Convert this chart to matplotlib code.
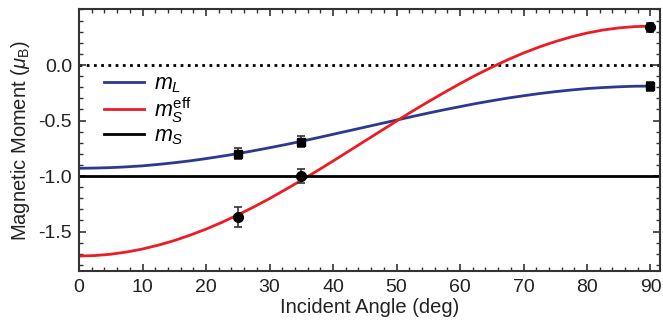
import matplotlib
matplotlib.use("Agg")
import matplotlib.pyplot as plt
from matplotlib.ticker import MultipleLocator

plt.rcParams['font.family'] = ['Liberation Sans', 'DejaVu Sans']
plt.rcParams['mathtext.fontset'] = 'custom'
plt.rcParams['mathtext.rm'] = 'Liberation Sans'
plt.rcParams['mathtext.it'] = 'Liberation Sans:italic'

# Curve samples
angles = [0, 2.5, 5, 7.5, 10, 12.5, 15, 17.5, 20, 22.5, 25, 27.5, 30, 32.5, 35, 37.5,
          40, 42.5, 45, 47.5, 50, 52.5, 55, 57.5, 60, 62.5, 65, 67.5, 70, 72.5, 75,
          77.5, 80, 82.5, 85, 87.5, 90]
mL_curve = [-0.930, -0.928, -0.924, -0.917, -0.908, -0.895, -0.880, -0.863, -0.843,
            -0.821, -0.798, -0.772, -0.745, -0.717, -0.687, -0.656, -0.624, -0.592,
            -0.560, -0.528, -0.496, -0.464, -0.433, -0.403, -0.375, -0.347, -0.322,
            -0.298, -0.277, -0.257, -0.240, -0.225, -0.212, -0.203, -0.196, -0.191,
            -0.190]
mSeff_curve = [-1.720, -1.716, -1.704, -1.684, -1.657, -1.622, -1.581, -1.532, -1.478,
               -1.417, -1.350, -1.279, -1.203, -1.122, -1.039, -0.953, -0.865, -0.775,
               -0.685, -0.595, -0.505, -0.416, -0.331, -0.248, -0.168, -0.091, -0.020,
               0.047, 0.108, 0.163, 0.211, 0.253, 0.288, 0.315, 0.334, 0.346, 0.350]
mS_value = -1.0

# Measured points
pt_angles = [25, 35, 90]
mL_pts = [-0.80, -0.69, -0.19]
mL_err = [0.05, 0.05, 0.04]
mSeff_pts = [-1.37, -1.00, 0.34]
mSeff_err = [0.09, 0.06, 0.04]

blue = '#2b3990'
red = '#ed1c24'

fig = plt.figure(figsize=(6.63, 3.23), dpi=100)
ax = fig.add_axes([0.1192, 0.161, 0.9955 - 0.1192, 0.9706 - 0.161])

ax.axhline(0.0, color='black', linestyle=(0, (1, 1.6)), linewidth=2.0, zorder=1)
ax.plot(angles, mL_curve, color=blue, linewidth=2.0, label=r'$m_L$', zorder=2)
ax.plot(angles, mSeff_curve, color=red, linewidth=2.0, label=r'$m_S^{\mathrm{eff}}$', zorder=2)
ax.axhline(mS_value, color='black', linewidth=2.0, label=r'$m_S$', zorder=2)

ax.errorbar(pt_angles, mL_pts, yerr=mL_err, fmt='s', color='black', ecolor='#333333',
            markersize=6, capsize=3, elinewidth=1.2, capthick=1.2, zorder=3)
ax.errorbar(pt_angles, mSeff_pts, yerr=mSeff_err, fmt='o', color='black', ecolor='#333333',
            markersize=7, capsize=3, elinewidth=1.2, capthick=1.2, zorder=3)

ax.set_xlim(0, 91.5)
ax.set_ylim(-1.855, 0.5)
ax.xaxis.set_major_locator(MultipleLocator(10))
ax.xaxis.set_minor_locator(MultipleLocator(2))
ax.yaxis.set_major_locator(MultipleLocator(0.5))
ax.yaxis.set_minor_locator(MultipleLocator(0.1))
ax.set_yticks([0.0, -0.5, -1.0, -1.5])
ax.set_yticklabels(['0.0', '-0.5', '-1.0', '-1.5'])
ax.tick_params(which='both', direction='in', top=True, right=True, labelsize=14,
               color='#333333', labelcolor='#222222')
ax.tick_params(axis='x', which='major', pad=6)
ax.tick_params(axis='y', which='major', pad=5)
ax.tick_params(which='major', length=5, width=1.2)
ax.tick_params(which='minor', length=3, width=1.0)
for s in ax.spines.values():
    s.set_linewidth(1.5)
    s.set_color('#333333')

ax.set_xlabel('Incident Angle (deg)', fontsize=14.5, color='#222222', labelpad=1)
ax.set_ylabel(r'Magnetic Moment ($\mu_{\mathrm{B}}$)', fontsize=14.5, color='#222222', labelpad=5)

leg = ax.legend(loc='upper left', bbox_to_anchor=(0.01, 0.83), frameon=False, fontsize=15.5,
                handlelength=1.85, handletextpad=0.45, labelspacing=0.02)

fig.savefig('out.png', dpi=100)
